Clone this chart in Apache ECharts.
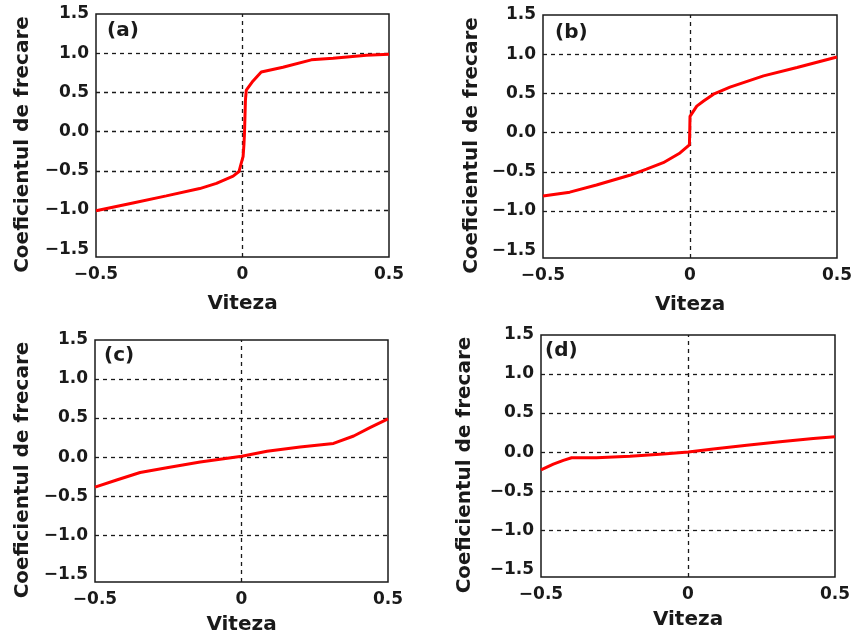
<!DOCTYPE html>
<html>
<head>
<meta charset="utf-8">
<script src="https://cdn.jsdelivr.net/npm/echarts@6/dist/echarts.min.js"></script>
<style>html,body{margin:0;padding:0;background:#fff;}#c{width:856px;height:636px;}</style>
</head>
<body>
<div id="c"></div>
<script>
// Data (x = Viteza, y = Coeficientul de frecare)
var xA = [-0.5, -0.374, -0.26, -0.146, -0.089, -0.032, -0.012, -0.004, 0.002, 0.005, 0.007, 0.01, 0.013, 0.036, 0.064, 0.138, 0.235, 0.309, 0.423, 0.5];
var yA = [-1.01, -0.91, -0.82, -0.727, -0.66, -0.568, -0.51, -0.4, -0.32, -0.16, 0.0, 0.40, 0.53, 0.646, 0.76, 0.82, 0.915, 0.935, 0.973, 0.985];

var xB = [-0.5, -0.409, -0.318, -0.205, -0.148, -0.091, -0.034, -0.002, -0.001, 0.0, 0.023, 0.045, 0.08, 0.136, 0.25, 0.364, 0.5];
var yB = [-0.81, -0.76, -0.668, -0.545, -0.467, -0.384, -0.26, -0.157, -0.01, 0.206, 0.338, 0.40, 0.49, 0.58, 0.723, 0.83, 0.965];

var xC = [-0.5, -0.426, -0.346, -0.255, -0.141, 0.001, 0.087, 0.2, 0.314, 0.383, 0.44, 0.5];
var yC = [-0.384, -0.293, -0.198, -0.136, -0.062, 0.01, 0.075, 0.13, 0.175, 0.27, 0.38, 0.49];

var xD = [-0.5, -0.458, -0.424, -0.396, -0.311, -0.197, -0.084, 0.001, 0.086, 0.2, 0.313, 0.426, 0.5];
var yD = [-0.228, -0.154, -0.106, -0.073, -0.073, -0.053, -0.024, 0.0, 0.04, 0.088, 0.132, 0.175, 0.197];

var panelLabels = ['(a)', '(b)', '(c)', '(d)'];
var yTickLabels = [-1.5, -1.0, -0.5, 0.0, 0.5, 1.0, 1.5];
var yGridValues = [-1.0, -0.5, 0.0, 0.5, 1.0];
var xGridValues = [0];
var xAxisName = 'Viteza';
var yAxisName = 'Coeficientul de frecare';

var FONT = '"DejaVu Sans", Verdana, sans-serif';
var INK = '#1a1a1a';

var grids = [
  {left: 96, top: 14, width: 293, height: 243, yGap: 63, xGap: 37, lx: 107, ly: 21},
  {left: 543, top: 15, width: 294, height: 243, yGap: 61, xGap: 37, lx: 555, ly: 23},
  {left: 95, top: 340, width: 293, height: 242, yGap: 62, xGap: 33, lx: 104, ly: 346},
  {left: 541, top: 335, width: 294, height: 242, yGap: 66, xGap: 33, lx: 545, ly: 341}
];
var xs = [xA, xB, xC, xD];
var ys = [yA, yB, yC, yD];

function minus(s){ return s.replace('-', '\u2212'); }

var option = {
  animation: false,
  backgroundColor: '#fff',
  grid: [], xAxis: [], yAxis: [], series: [], title: []
};

grids.forEach(function(g, i){
  option.grid.push({left: g.left, top: g.top, width: g.width, height: g.height, show: true, borderColor: INK, borderWidth: 1.5, backgroundColor: 'transparent'});
  option.xAxis.push({
    type: 'value', gridIndex: i, min: -0.5, max: 0.5, interval: 0.5,
    name: xAxisName, nameLocation: 'middle', nameGap: g.xGap,
    nameTextStyle: {fontFamily: FONT, fontWeight: 'bold', fontSize: 20, color: INK},
    axisLine: {show: false}, axisTick: {show: false}, splitLine: {show: false},
    axisLabel: {margin: 9, fontFamily: FONT, fontWeight: 'bold', fontSize: 17, color: INK,
      formatter: function(v){ return v === 0 ? '0' : minus(String(v)); }}
  });
  option.yAxis.push({
    type: 'value', gridIndex: i, min: -1.6, max: 1.5, interval: 0.1,
    name: yAxisName, nameLocation: 'middle', nameGap: g.yGap, nameRotate: 90,
    nameTextStyle: {fontFamily: FONT, fontWeight: 'bold', fontSize: 20, color: INK, padding: [0, 18, 0, 0]},
    axisLine: {show: false}, axisTick: {show: false}, splitLine: {show: false},
    axisLabel: {margin: 7, fontFamily: FONT, fontWeight: 'bold', fontSize: 17, color: INK,
      formatter: function(v){
        for (var k = 0; k < yTickLabels.length; k++) {
          if (Math.abs(v - yTickLabels[k]) < 1e-6) return minus(yTickLabels[k].toFixed(1));
        }
        return '';
      }}
  });
  var data = xs[i].map(function(x, k){ return [x, ys[i][k]]; });
  var ml = [];
  yGridValues.forEach(function(v){ ml.push({yAxis: v}); });
  xGridValues.forEach(function(v){ ml.push({xAxis: v}); });
  option.series.push({
    type: 'line', xAxisIndex: i, yAxisIndex: i, data: data,
    showSymbol: false, symbol: 'none', smooth: false,
    lineStyle: {color: '#ff0000', width: 3}, z: 3,
    markLine: {silent: true, symbol: 'none', label: {show: false}, animation: false,
      lineStyle: {color: INK, type: [4, 4], width: 1.3}, z: 2, data: ml}
  });
  option.title.push({text: panelLabels[i], left: g.lx, top: g.ly, padding: 0,
    textStyle: {fontFamily: FONT, fontWeight: 'bold', fontSize: 20, color: INK}});
});

var chart = echarts.init(document.getElementById('c'), null, {renderer: 'canvas'});
chart.setOption(option);
</script>
</body>
</html>
